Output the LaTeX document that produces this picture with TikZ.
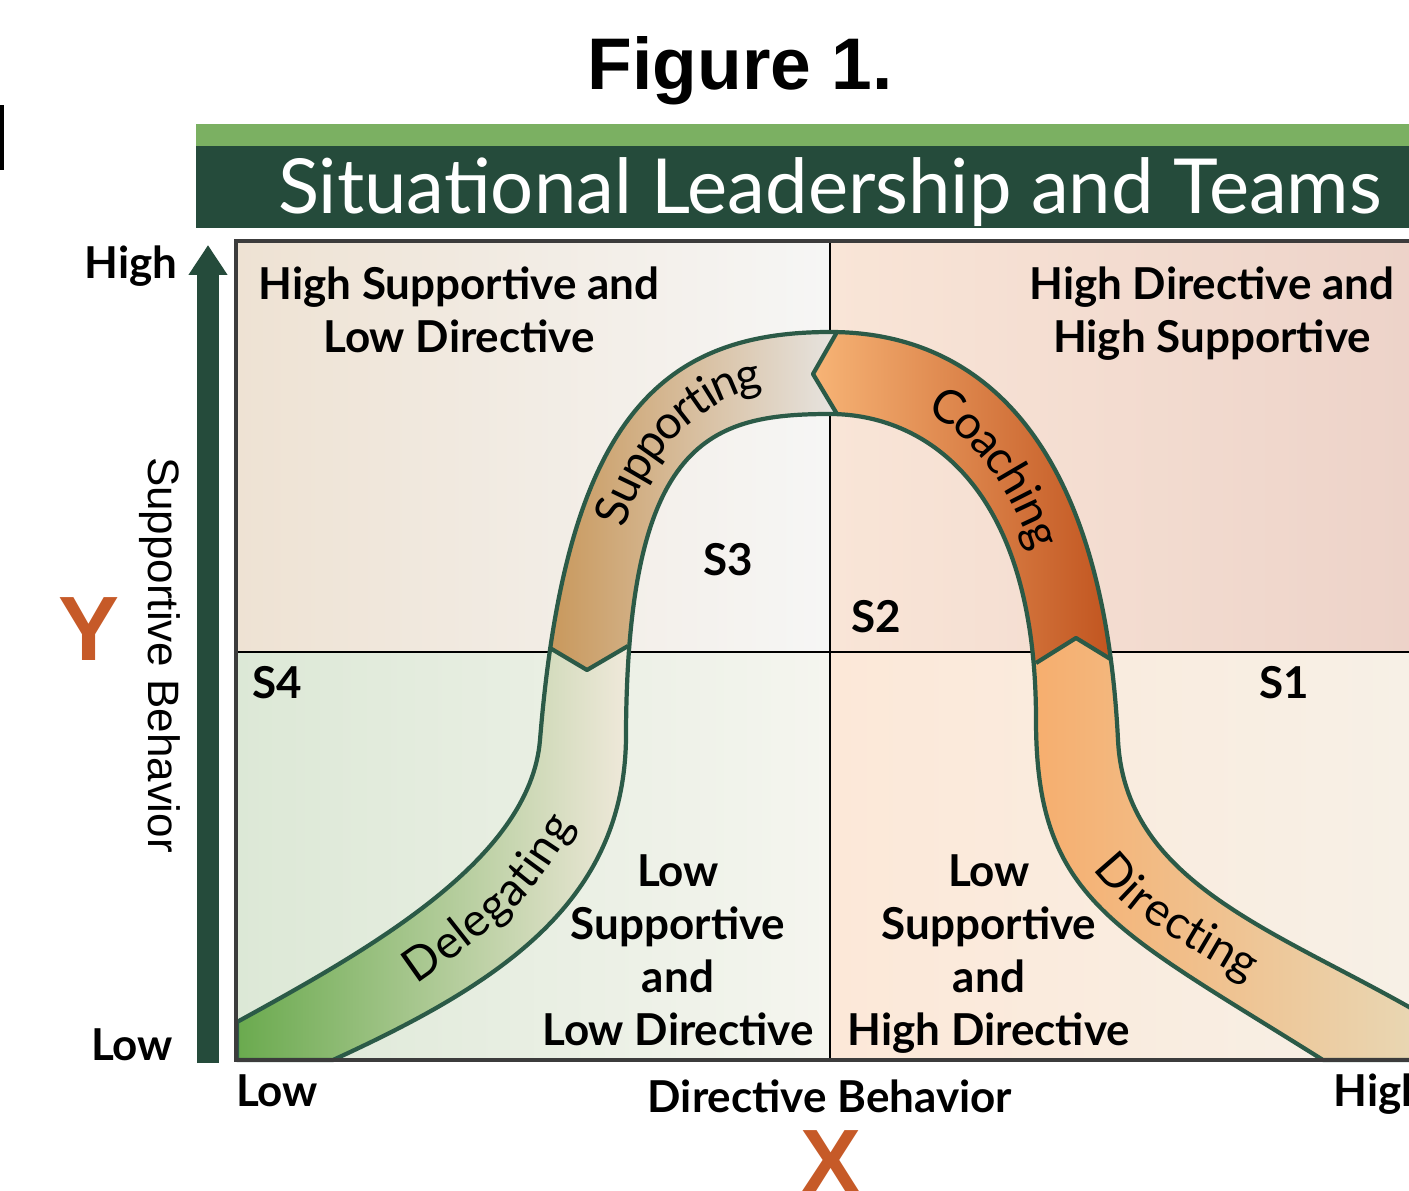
\documentclass[tikz,border=0pt]{standalone}
\usepackage{fontspec}
\setmainfont{Lato}
\newfontfamily\arialfont{Liberation Sans}
\usepackage{tikz}
\usetikzlibrary{positioning,decorations.text,arrows.meta}

\definecolor{barlight}{HTML}{7BB062}
\definecolor{bardark}{HTML}{254B3B}
\definecolor{bandgreen}{HTML}{2B5A47}
\definecolor{letterorange}{HTML}{C65A28}
\definecolor{boxgray}{HTML}{3C3C3C}
% quadrant shades
\definecolor{tlL}{HTML}{EEE2D3}\definecolor{tlR}{HTML}{F6F6F5}
\definecolor{trL}{HTML}{F9E5D7}\definecolor{trR}{HTML}{EDD3C9}
\definecolor{blL}{HTML}{DCE8D6}\definecolor{blR}{HTML}{F5F5EF}
\definecolor{brL}{HTML}{FCE8D8}\definecolor{brR}{HTML}{F7F0E6}
% band shades
\definecolor{delegL}{HTML}{6AAA4E}\definecolor{delegM}{HTML}{B5CF9E}\definecolor{delegR}{HTML}{F0E9DB}
\definecolor{suppL}{HTML}{C8975A}\definecolor{suppR}{HTML}{E7E5E2}
\definecolor{coachL}{HTML}{F7B476}\definecolor{coachR}{HTML}{C0531E}
\definecolor{directL}{HTML}{F6AE6E}\definecolor{directR}{HTML}{E9D6B2}

\newcommand{\bandfont}{\fontsize{13.2}{15}\selectfont}

\begin{document}
\begin{tikzpicture}[x=0.01cm, y=-0.01cm,
						quadtext/.style={
							font=\bfseries\fontsize{12.5}{15.1}\selectfont,
							align=center,
							inner sep=0pt
						},
						axistext/.style={
							font=\bfseries\fontsize{12.5}{15}\selectfont,
							inner sep=0pt
						},
						bigletter/.style={
							font=\arialfont\bfseries\fontsize{26}{28}\selectfont,
							text=letterorange,
							inner sep=0pt
						},
						bandline/.style={draw=bandgreen, line width=1.2pt, line join=round},
						bandlabel/.style={
							decoration={text along path, text={|\bandfont|#1},
								text align=center, raise=-4.4pt},
							decorate
						}]

	\useasboundingbox (0,0) rectangle (1409,1191);
	\clip (0,0) rectangle (1409,1191);

	%% Heading
	\node [font=\arialfont\bfseries\fontsize{20.8}{24}\selectfont, anchor=base] (figtitle)
		at (740,90) {Figure 1.};
	\fill (0,105) rectangle (3.5,170);
	\fill [barlight] (196,124) rectangle (1409,146);
	\fill [bardark] (196,146) rectangle (1409,228);
	\node [font=\fontsize{21.6}{24}\selectfont, text=white, anchor=base] (bartitle)
		at (830,213) {Situational Leadership and Teams};

	%% Quadrant backgrounds and dividers
	\shade [left color=tlL, right color=tlR] (236,242) rectangle (830,652);
	\shade [left color=trL, right color=trR] (830,242) rectangle (1409,652);
	\shade [left color=blL, right color=blR] (236,652) rectangle (830,1060);
	\shade [left color=brL, right color=brR] (830,652) rectangle (1409,1060);
	\draw [line width=0.6pt] (830,242) -- (830,1060);
	\draw [line width=0.6pt] (236,652) -- (1409,652);

	%% The curved band
	\path [save path=\bandshape]
		(237,1060) -- (237,1022)
		.. controls (368,950) and (530,860) .. (540,740)
		.. controls (566,420) and (660,332) .. (830,332)
		.. controls (980,332) and (1103,440) .. (1118,740)
		.. controls (1125,880) and (1269,928) .. (1409,1007)
		-- (1460,1036) -- (1460,1060) -- (1323,1060)
		.. controls (1113,928) and (1036,900) .. (1036,720)
		.. controls (1036,480) and (920,414) .. (830,414)
		.. controls (710,414) and (628,440) .. (626,730)
		.. controls (628,900) and (503,982) .. (333,1060)
		-- cycle;

	% chevron corners between the four styles
	\coordinate (dsL) at (550,648);
	\coordinate (dsTip) at (587,670);
	\coordinate (dsR) at (628,646);
	\coordinate (scT) at (837,332);
	\coordinate (scTip) at (813,374);
	\coordinate (scB) at (837,414);
	\coordinate (cdL) at (1036,663);
	\coordinate (cdTip) at (1076,638);
	\coordinate (cdR) at (1112,660);

	% Delegating
	\begin{scope}
		\clip [use path=\bandshape];
		\clip (100,648) -- (dsL) -- (dsTip) -- (dsR) -- (760,646) -- (760,1100)
			-- (100,1100) -- cycle;
		\shade [left color=delegL, middle color=delegM, right color=delegR]
			(237,640) rectangle (630,1062);
	\end{scope}
	% Supporting
	\begin{scope}
		\clip [use path=\bandshape];
		\clip (100,648) -- (dsL) -- (dsTip) -- (dsR) -- (760,646) -- (837,460) -- (scB)
			-- (scTip) -- (scT) -- (837,150) -- (100,150) -- cycle;
		\shade [left color=suppL, right color=suppR] (545,330) rectangle (840,672);
	\end{scope}
	% Coaching
	\begin{scope}
		\clip [use path=\bandshape];
		\clip (837,150) -- (scT) -- (scTip) -- (scB) -- (837,460) -- (980,663) -- (cdL)
			-- (cdTip) -- (cdR) -- (1500,660) -- (1500,150) -- cycle;
		\shade [left color=coachL, right color=coachR] (813,330) rectangle (1117,665);
	\end{scope}
	% Directing
	\begin{scope}
		\clip [use path=\bandshape];
		\clip (980,663) -- (cdL) -- (cdTip) -- (cdR) -- (1500,660) -- (1500,1100)
			-- (980,1100) -- cycle;
		\shade [left color=directL, right color=directR] (1033,636) rectangle (1409,1062);
	\end{scope}

	\draw [bandline, use path=\bandshape];
	\draw [bandline] (dsL) -- (dsTip) -- (dsR);
	\draw [bandline] (scT) -- (scTip) -- (scB);
	\draw [bandline] (cdL) -- (cdTip) -- (cdR);

	%% Labels along the band
	\path [bandlabel=Delegating] plot [smooth] coordinates {(285,1040) (410,970) (510,890)
		(565,810) (582,740) (587,680)};
	\path [bandlabel=Supporting] plot [smooth] coordinates {(596,575) (620,495) (660,430)
		(720,385) (780,370) (812,370)};
	\path [bandlabel=Coaching] plot [smooth] coordinates {(840,374) (900,385) (960,415)
		(1010,470) (1045,540) (1068,610) (1072,640)};
	\path [bandlabel=Directing] plot [smooth] coordinates {(1070,690) (1072,770) (1092,840)
		(1140,897) (1220,948) (1310,998) (1410,1052)};

	%% Frame of the grid
	\draw [boxgray, line width=1pt] (1409,241) -- (236,241) -- (236,1060) -- (1409,1060);

	%% Quadrant texts
	\node [quadtext] (hsld) at (459,310) {High Supportive and\\Low Directive};
	\node [quadtext] (hdhs) at (1212,314) {High Directive and\\High Supportive};
	\node [quadtext] (lsld) at (678,950) {Low\\Supportive\\and\\Low Directive};
	\node [quadtext] (lshd) at (989,954) {Low\\Supportive\\and\\High Directive};
	\node [quadtext] (sthree) at (728,560) {S3};
	\node [quadtext] (stwo) at (876,617) {S2};
	\node [quadtext] (sfour) at (277,683) {S4};
	\node [quadtext] (sone) at (1284,683) {S1};

	%% Axes
	\coordinate (yaxisLow) at (208,1063);
	\coordinate (yaxisHigh) at (208,245);
	\draw [bardark, line width=6.5pt, -{Triangle[width=10.5pt,length=8.5pt]}]
		(yaxisLow) -- (yaxisHigh);
	\node [axistext, anchor=base] (yhigh) at (131,278) {High};
	\node [axistext, anchor=base] (ylow) at (132,1060) {Low};
	\node [font=\arialfont\fontsize{12.5}{15}\selectfont, rotate=-90] (ylabel)
		at (160,655) {Supportive Behavior};
	\node [bigletter, anchor=base] (yletter) at (89,660) {Y};

	\node [axistext, anchor=base] (xlow) at (277,1106) {Low};
	\node [axistext, anchor=base] (xlabel) at (830,1112) {Directive Behavior};
	\node [axistext, anchor=base west] (xhigh) at (1333,1106) {High};
	\node [bigletter, anchor=base] (xletter) at (831,1193) {X};
\end{tikzpicture}
\end{document}
